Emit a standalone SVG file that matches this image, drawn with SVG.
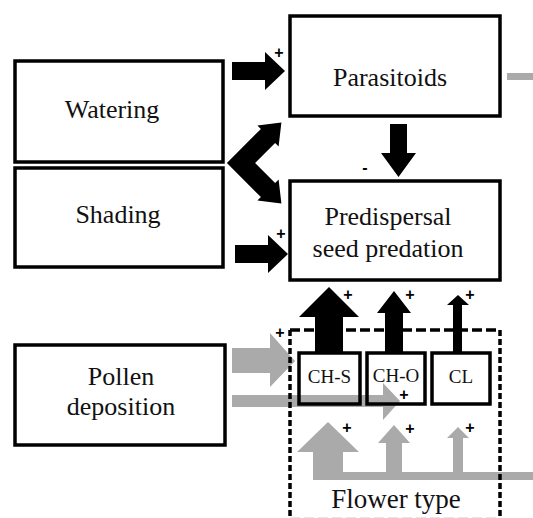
<svg xmlns="http://www.w3.org/2000/svg" width="533" height="518" viewBox="0 0 533 518">
<style>
.box{fill:#fff;stroke:#000;stroke-width:3.5}
.sbox{fill:none;stroke:#000;stroke-width:3.5}
.lbl{font-family:'Liberation Serif','Times New Roman',serif;font-size:26px;fill:#111;text-anchor:middle}
.sl{font-family:'Liberation Serif','Times New Roman',serif;font-size:19px;fill:#111;text-anchor:middle}
.sign{font-family:'Liberation Sans',Arial,sans-serif;font-weight:bold;font-size:16px;fill:#000;text-anchor:middle;dominant-baseline:central}
.blk{fill:#000}
.gry{fill:#aaaaaa}
.dh{stroke:#000;stroke-width:3.5;stroke-dasharray:10 4;fill:none}
.dv{stroke:#000;stroke-width:3.5;stroke-dasharray:6 3;fill:none}
</style>
<rect width="533" height="518" fill="#fff"/>
<g id="connectors">
<polygon class="gry" points="232,348 270,348 270,333 295,361 270,387 270,373 232,373"/>
<polygon class="gry" points="232,395 383,395 383,383 400,401 383,420 383,407 232,407"/>
<polygon class="gry" points="313,480 313,452 297,452 328,422 359,452 343,452 343,472 386,472 386,443 378,443 394,425 410,443 402,443 402,472 453,472 453,438 447,438 458,427 469,438 463,438 463,472 533,472 533,480"/>
<rect class="gry" x="507" y="73" width="26" height="7"/>
<polygon class="blk" points="232,62 265,62 265,52 285,71 265,90 265,80 232,80"/>
<polygon class="blk" points="235,245 268,245 268,235 288,254 268,273 268,263 235,263"/>
<polygon class="blk" points="390,124 407,124 407,153 416,153 398.5,177 381,153 390,153"/>
<polygon class="blk" points="226.9,163 260.9,128.9 257.4,125.4 281.4,122.6 278.6,146.6 275.1,143.1 255.1,163 275.1,182.9 278.6,179.4 281.4,203.4 257.4,200.6 260.9,197.1"/>
<polygon class="blk" points="329,287 359,317 343,317 343,353 315,353 315,317 299,317"/>
<polygon class="blk" points="394,291 411,313 403,313 403,353 385,353 385,313 377,313"/>
<polygon class="blk" points="458,295 469,305 462,305 462,353 453,353 453,305 447,305"/>
<text class="sign" x="279" y="52">+</text>
<text class="sign" x="281" y="233">+</text>
<text class="sign" x="365" y="167">-</text>
<text class="sign" x="348" y="294">+</text>
<text class="sign" x="410" y="294">+</text>
<text class="sign" x="470" y="294">+</text>
<text class="sign" x="280" y="332">+</text>
<text class="sign" x="347" y="427">+</text>
<text class="sign" x="410" y="428">+</text>
<text class="sign" x="470" y="427">+</text>
</g>
<g id="watering"><rect class="box" x="15" y="61" width="208" height="101"/><text class="lbl" x="112" y="118">Watering</text></g>
<g id="shading"><rect class="box" x="15" y="168" width="208" height="99"/><text class="lbl" x="118" y="223">Shading</text></g>
<g id="parasitoids"><rect class="box" x="290" y="16" width="210" height="100"/><text class="lbl" x="390" y="86">Parasitoids</text></g>
<g id="predation"><rect class="box" x="290" y="181" width="210" height="99"/><text class="lbl" x="388" y="225">Predispersal</text><text class="lbl" x="388" y="257">seed predation</text></g>
<g id="pollen"><rect class="box" x="15" y="345" width="210" height="100"/><text class="lbl" x="121" y="385">Pollen</text><text class="lbl" x="121" y="415">deposition</text></g>
<g id="flower-type">
<line class="dh" x1="290" y1="330" x2="500" y2="330"/>
<line class="dv" x1="290" y1="330" x2="290" y2="519"/>
<line class="dv" x1="500" y1="330" x2="500" y2="519"/>
<line class="dh" x1="290" y1="519.5" x2="500" y2="519.5" style="stroke:#999"/>
<text class="lbl" x="396" y="508" style="font-size:27px">Flower type</text>
</g>
<g id="ch-s"><rect class="sbox" x="299" y="353" width="61" height="51"/><text class="sl" x="329.5" y="383">CH-S</text></g>
<g id="ch-o"><rect class="sbox" x="367" y="353" width="58" height="51"/><text class="sl" x="396" y="382">CH-O</text></g>
<g id="cl"><rect class="sbox" x="432" y="353" width="58" height="51"/><text class="sl" x="461" y="383">CL</text></g>
<text class="sign" x="404" y="394">+</text>
</svg>
